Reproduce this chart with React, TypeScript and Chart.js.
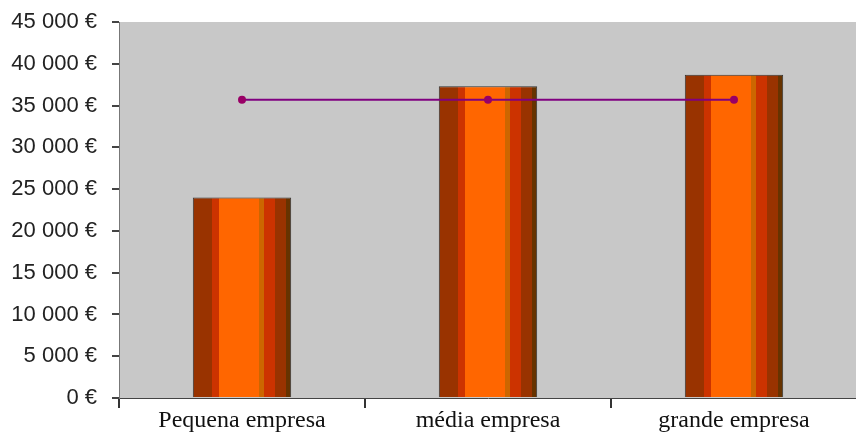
import React, { useEffect, useRef } from "react";
import { Chart, registerables } from "chart.js";

Chart.register(...registerables);

const categories = ["Pequena empresa", "média empresa", "grande empresa"];
const barValues = [24000, 37300, 38700];
const lineValues = [35700, 35700, 35700];
const yTicks = [0, 5000, 10000, 15000, 20000, 25000, 30000, 35000, 40000, 45000];

const fmt = (v: number) => {
  const s = String(Math.round(v));
  return s.replace(/\B(?=(\d{3})+(?!\d))/g, " ") + " €";
};

export default function App() {
  const ref = useRef<HTMLCanvasElement | null>(null);
  useEffect(() => {
    if (!ref.current) return;
    const plotBg = {
      id: "plotBg",
      beforeDraw(chart: any) {
        const { ctx, chartArea } = chart;
        ctx.save();
        ctx.fillStyle = "#C8C8C8";
        ctx.fillRect(chartArea.left, chartArea.top, chartArea.right - chartArea.left, chartArea.bottom - chartArea.top);
        ctx.restore();
      },
    };
    const barFill = (c: any) => {
      const chart = c.chart;
      const xs = chart.scales.x;
      if (!xs || c.dataIndex === undefined) return "#FF6600";
      const center = xs.getPixelForValue(c.dataIndex);
      const cw = xs.getPixelForValue(1) - xs.getPixelForValue(0);
      if (!isFinite(center) || !isFinite(cw) || cw <= 0) return "#FF6600";
      const bw = cw * 0.4;
      const l = center - bw / 2;
      const g = chart.ctx.createLinearGradient(l, 0, l + bw, 0);
      const stops: [number, number, string][] = [
        [0, 0.2, "#993300"],
        [0.2, 0.27, "#CC3300"],
        [0.27, 0.67, "#FF6600"],
        [0.67, 0.72, "#CC6600"],
        [0.72, 0.84, "#CC3300"],
        [0.84, 0.95, "#993300"],
        [0.95, 1, "#663300"],
      ];
      stops.forEach(([a, b, col]) => {
        g.addColorStop(a, col);
        g.addColorStop(b, col);
      });
      return g;
    };
    const chart = new Chart(ref.current, {
      type: "bar",
      data: {
        labels: categories,
        datasets: [
          {
            type: "line",
            data: lineValues,
            borderColor: "#800080",
            backgroundColor: "#990099",
            borderWidth: 2,
            pointRadius: 4,
            pointBorderWidth: 0,
            pointBackgroundColor: "#990066",
            order: 0,
          } as any,
          {
            type: "bar",
            data: barValues,
            backgroundColor: barFill,
            borderColor: "#333333",
            borderWidth: 1,
            barPercentage: 0.4,
            categoryPercentage: 1,
            order: 1,
          } as any,
        ],
      },
      plugins: [plotBg],
      options: {
        animation: false,
        responsive: false,
        maintainAspectRatio: false,
        layout: { padding: { top: 22, right: 0, left: 0, bottom: 0 } },
        plugins: { legend: { display: false }, tooltip: { enabled: false } },
        scales: {
          x: {
            offset: true,
            grid: {
              offset: true,
              drawOnChartArea: false,
              tickLength: 10,
              color: "#333333",
              lineWidth: 2,
            },
            border: { color: "#444444", width: 1 },
            ticks: {
              color: "#111111",
              font: { family: "Liberation Serif", size: 24 },
              padding: -2,
              maxRotation: 0,
            },
            afterFit: (s: any) => {
              s.height = 34;
              s.paddingLeft = 0;
              s.paddingRight = 0;
            },
          },
          y: {
            min: 0,
            max: 45000,
            afterBuildTicks: (s: any) => {
              s.ticks = yTicks.map((v) => ({ value: v }));
            },
            grid: {
              drawOnChartArea: false,
              tickLength: 7,
              color: "#444444",
              lineWidth: 2,
            },
            border: { color: "#777777", width: 1 },
            ticks: {
              color: "#222222",
              font: { family: "Liberation Sans", size: 22 },
              padding: 15,
              callback: (v: any) => fmt(Number(v)),
            },
            afterFit: (s: any) => {
              s.width = 119;
              s.paddingTop = 0;
              s.paddingBottom = 0;
            },
          },
        },
      },
    });
    chart.update();
    return () => chart.destroy();
  }, []);
  return (
    <div style={{ position: "fixed", left: 0, top: 0, width: 856, height: 432, overflow: "hidden", background: "#fff" }}>
      <canvas ref={ref} width={861} height={432} style={{ display: "block" }} />
    </div>
  );
}
